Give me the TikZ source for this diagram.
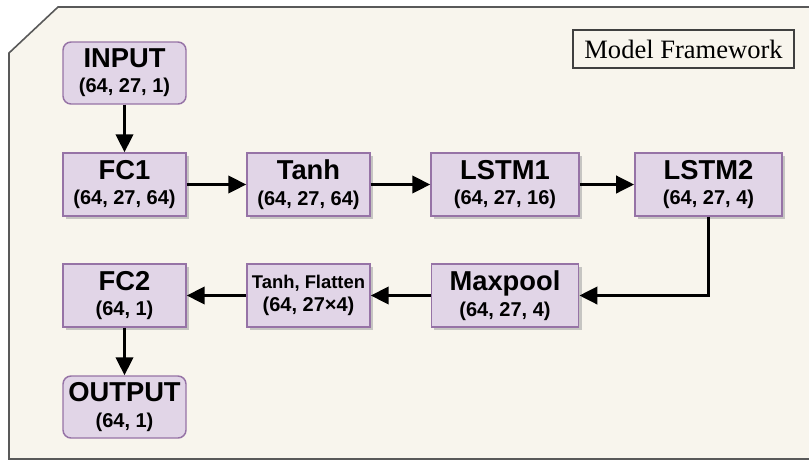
\documentclass[tikz,border=0pt]{standalone}
\usepackage{fontspec}
\setmainfont{Liberation Serif}
\setsansfont{Liberation Sans}
\usepackage{xcolor}
\usetikzlibrary{arrows.meta,shadows,positioning}

\definecolor{panelbg}{HTML}{F8F5ED}
\definecolor{layerfill}{HTML}{E1D5E7}
\definecolor{layerline}{HTML}{9673A6}

\newcommand{\layername}[1]{{\fontsize{20.5}{20}\selectfont #1}}

\begin{document}
\begin{tikzpicture}[x=0.75pt,y=-0.75pt,
  box/.style={rectangle,draw=layerline,fill=layerfill,line width=1.1pt,inner sep=0pt,align=center,
    minimum width=92.25pt,minimum height=47.25pt,font=\sffamily\bfseries\fontsize{15}{19}\selectfont},
  layer/.style={box,drop shadow={shadow xshift=2.25pt,shadow yshift=-2.25pt,fill=black!35,opacity=0.6}},
  io/.style={box,rounded corners=6pt,minimum height=46.5pt},
  flow/.style={-{Triangle[length=13.5pt,width=13pt]},line width=2.25pt}]
\useasboundingbox (0,0) rectangle (809,461);

% Background panel with cut corner
\draw[draw=black!65,line width=1.2pt,fill=panelbg] (9,53) -- (58,7) -- (815,7) -- (815,459) -- (9,459) -- cycle;
\node[draw=black!75,line width=1pt,fill=panelbg,inner sep=0pt,minimum width=165.75pt,minimum height=28.5pt,
  font=\fontsize{19.9}{22}\selectfont] (caption) at (683.5,49) {Model Framework};

% Input and output
\node[io] (input) at (124.5,73) {\layername{INPUT}\\(64, 27, 1)};
\node[io] (output) at (124.5,407) {\layername{OUTPUT}\\(64, 1)};

% First row of layers
\node[layer] (fc1) at (124.5,184.5) {\layername{FC1}\\(64, 27, 64)};
\node[layer] (tanh) at (308.5,184.5) {\layername{Tanh}\\(64, 27, 64)};
\node[layer,minimum width=111pt] (lstm1) at (505,184.5) {\layername{LSTM1}\\(64, 27, 16)};
\node[layer,minimum width=110.5pt] (lstm2) at (708.5,184.5) {\layername{LSTM2}\\(64, 27, 4)};

% Second row of layers
\node[layer,minimum width=110.5pt] (maxpool) at (505,295.5) {\layername{Maxpool}\\(64, 27, 4)};
\node[layer,font=\sffamily\bfseries\fontsize{13.8}{17.5}\selectfont] (flatten) at (308.5,295.5) {Tanh, Flatten\\{\fontsize{15}{17.5}\selectfont (64, 27×4)}};
\node[layer] (fc2) at (124.5,295.5) {\layername{FC2}\\(64, 1)};

% Data flow
\draw[flow] (input) -- (fc1);
\draw[flow] (fc1) -- (tanh);
\draw[flow] (tanh) -- (lstm1);
\draw[flow] (lstm1) -- (lstm2);
\draw[flow] (lstm2.south) |- (maxpool.east);
\draw[flow] (maxpool) -- (flatten);
\draw[flow] (flatten) -- (fc2);
\draw[flow] (fc2) -- (output);
\end{tikzpicture}
\end{document}
